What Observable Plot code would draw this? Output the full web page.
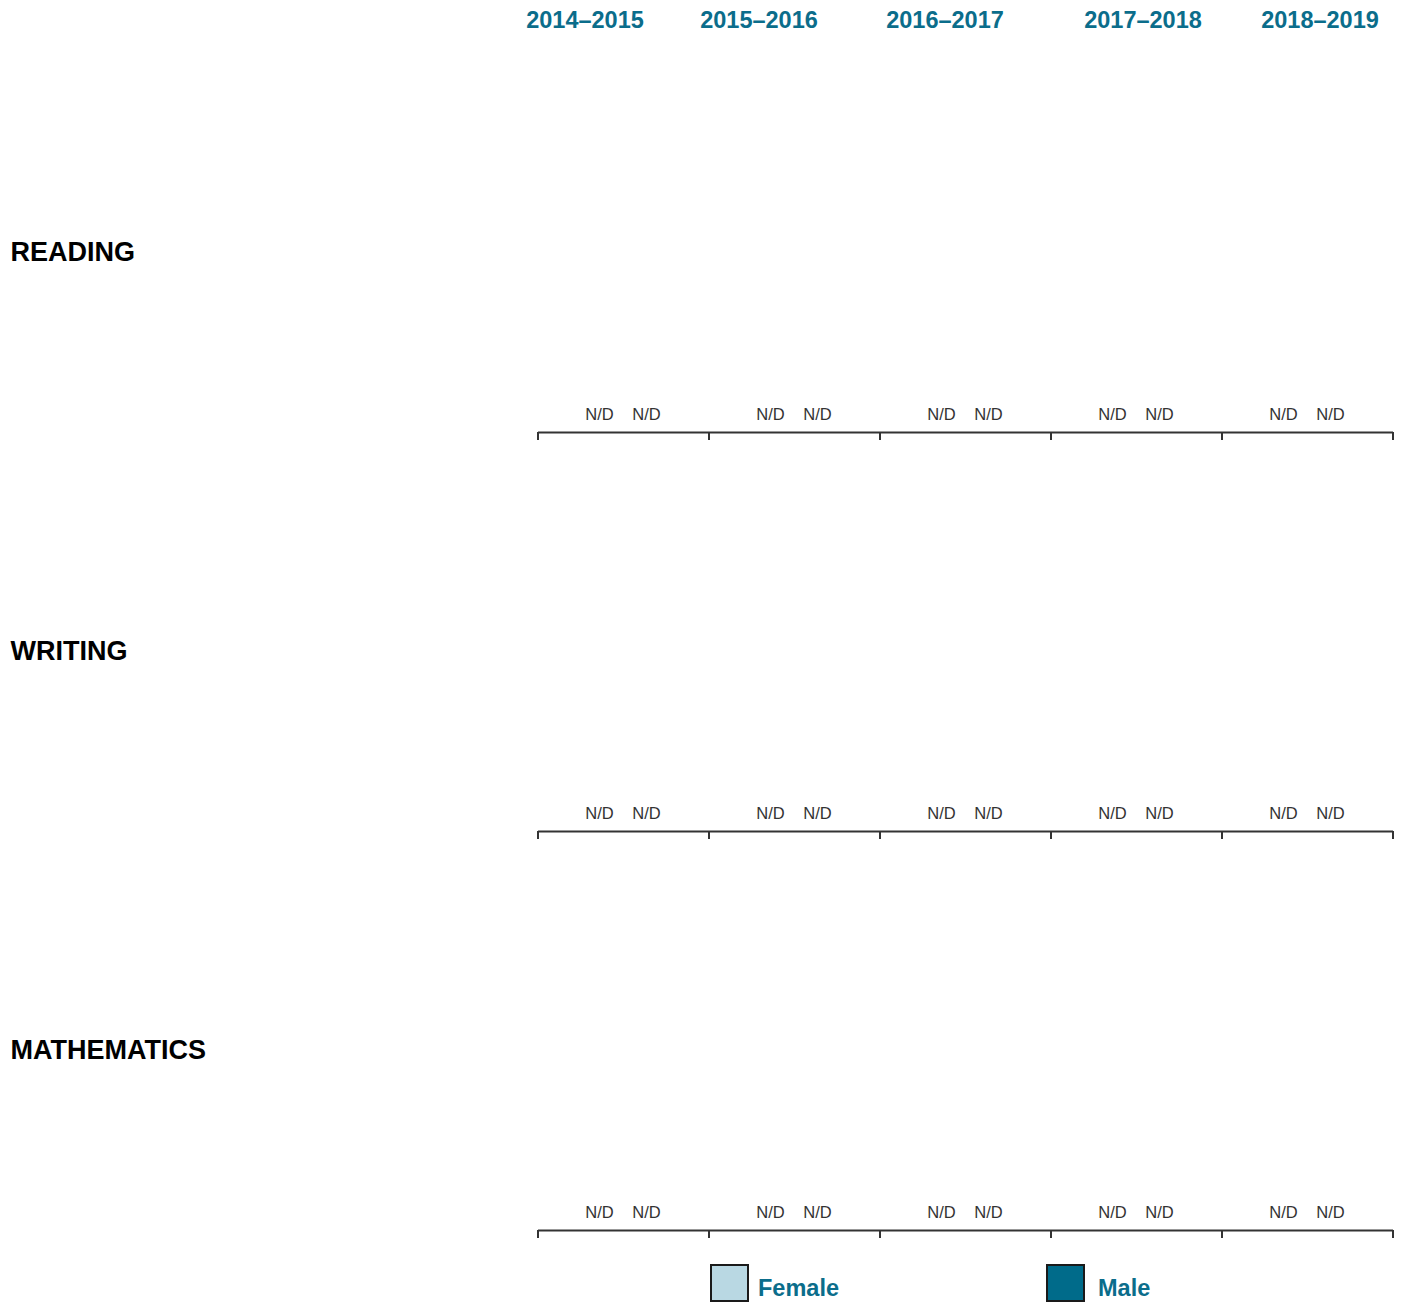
<!DOCTYPE html>
<html>
<head>
<meta charset="utf-8">
<script src="https://cdn.jsdelivr.net/npm/d3@7"></script>
<script src="https://cdn.jsdelivr.net/npm/@observablehq/plot@0.6"></script>
<style>
  html, body { margin: 0; padding: 0; background: #fff; }
  body { width: 1402px; height: 1307px; position: relative; font-family: "Liberation Sans", Arial, sans-serif; overflow: hidden; }
  #header { position: relative; height: 40px; }
  #header span { position: absolute; top: 5px; transform: translateX(-50%); font-size: 23.5px; font-weight: bold; color: #0b6d8b; white-space: nowrap; line-height: 30px; }
  #chart { position: relative; height: 1210px; }
  #legend { position: relative; height: 57px; }
  #legend .sw { position: absolute; top: 14px; width: 35px; height: 34px; border: 2px solid #1a1a1a; }
  #legend .lb { position: absolute; top: 23px; font-size: 23.5px; font-weight: bold; color: #0b6d8b; line-height: 30px; }
</style>
</head>
<body>
<div id="header"></div>
<div id="chart"></div>
<div id="legend"></div>
<script>
// ---- data ----
const years = ["2014–2015", "2015–2016", "2016–2017", "2017–2018", "2018–2019"];
const subjects = ["READING", "WRITING", "MATHEMATICS"];
const genders = ["Female", "Male"];
const genderColors = ["#b9d8e3", "#006b8a"];
// values: null = no data (N/D)
const readingFemale = [null, null, null, null, null];
const readingMale = [null, null, null, null, null];
const writingFemale = [null, null, null, null, null];
const writingMale = [null, null, null, null, null];
const mathFemale = [null, null, null, null, null];
const mathMale = [null, null, null, null, null];
const missingLabel = "N/D";

// ---- build table ----
const series = {
  READING: [readingFemale, readingMale],
  WRITING: [writingFemale, writingMale],
  MATHEMATICS: [mathFemale, mathMale]
};
const data = [];
for (const subject of subjects) {
  genders.forEach((gender, gi) => {
    years.forEach((year, yi) => {
      data.push({subject, gender, year, value: series[subject][gi][yi]});
    });
  });
}

// ---- header (column titles) ----
const headerCenters = [585, 759, 945, 1143, 1320];
const header = document.getElementById("header");
years.forEach((y, i) => {
  const s = document.createElement("span");
  s.textContent = y;
  s.style.left = headerCenters[i] + "px";
  header.appendChild(s);
});

// ---- chart ----
const boundaryTicks = (index, scales, values, dimensions) => {
  const r = scales.x && scales.x.range ? scales.x.range() : [dimensions.marginLeft, dimensions.width - dimensions.marginRight];
  const y0 = scales.y(0);
  const g = d3.create("svg:g").attr("stroke", "#333").attr("stroke-width", 2);
  for (const x of [Math.min(...r), Math.max(...r)]) {
    g.append("line").attr("x1", x).attr("x2", x).attr("y1", y0).attr("y2", y0 + 8);
  }
  return g.node();
};

const plot = Plot.plot({
  width: 1402,
  height: 1210,
  marginLeft: 537,
  marginRight: 8,
  marginTop: 30,
  marginBottom: 20,
  style: {fontFamily: '"Liberation Sans", Arial, sans-serif', background: "white"},
  fx: {domain: years, padding: 0, axis: null},
  fy: {domain: subjects, paddingInner: 37 / 399, paddingOuter: 0, axis: null},
  x: {domain: genders, paddingInner: 0.2, paddingOuter: 0.9, axis: null},
  y: {domain: [0, 100], axis: null},
  color: {domain: genders, range: genderColors},
  marks: [
    Plot.barY(data, {fx: "year", fy: "subject", x: "gender", y: "value", fill: "gender", stroke: "#1a1a1a"}),
    Plot.text(data, {
      filter: d => d.value == null,
      fx: "year", fy: "subject", x: "gender",
      text: () => missingLabel,
      frameAnchor: "bottom", lineAnchor: "middle", dy: -18, dx: -1,
      fontSize: 16.5, fill: "#333"
    }),
    Plot.ruleY([0], {stroke: "#333", strokeWidth: 2}),
    boundaryTicks,
    Plot.text(subjects, {
      fy: d => d, fx: () => years[0],
      text: d => d,
      frameAnchor: "left", textAnchor: "start", dx: -528, dy: 1,
      fontSize: 27, fontWeight: "bold", fill: "#000"
    })
  ]
});
document.getElementById("chart").appendChild(plot);

// ---- legend ----
const legendSwatchX = [710, 1046];
const legendLabelX = [758, 1098];
const legend = document.getElementById("legend");
genders.forEach((g, i) => {
  const sw = document.createElement("div");
  sw.className = "sw";
  sw.style.left = legendSwatchX[i] + "px";
  sw.style.background = genderColors[i];
  legend.appendChild(sw);
  const lb = document.createElement("div");
  lb.className = "lb";
  lb.style.left = legendLabelX[i] + "px";
  lb.textContent = g;
  legend.appendChild(lb);
});
</script>
</body>
</html>
